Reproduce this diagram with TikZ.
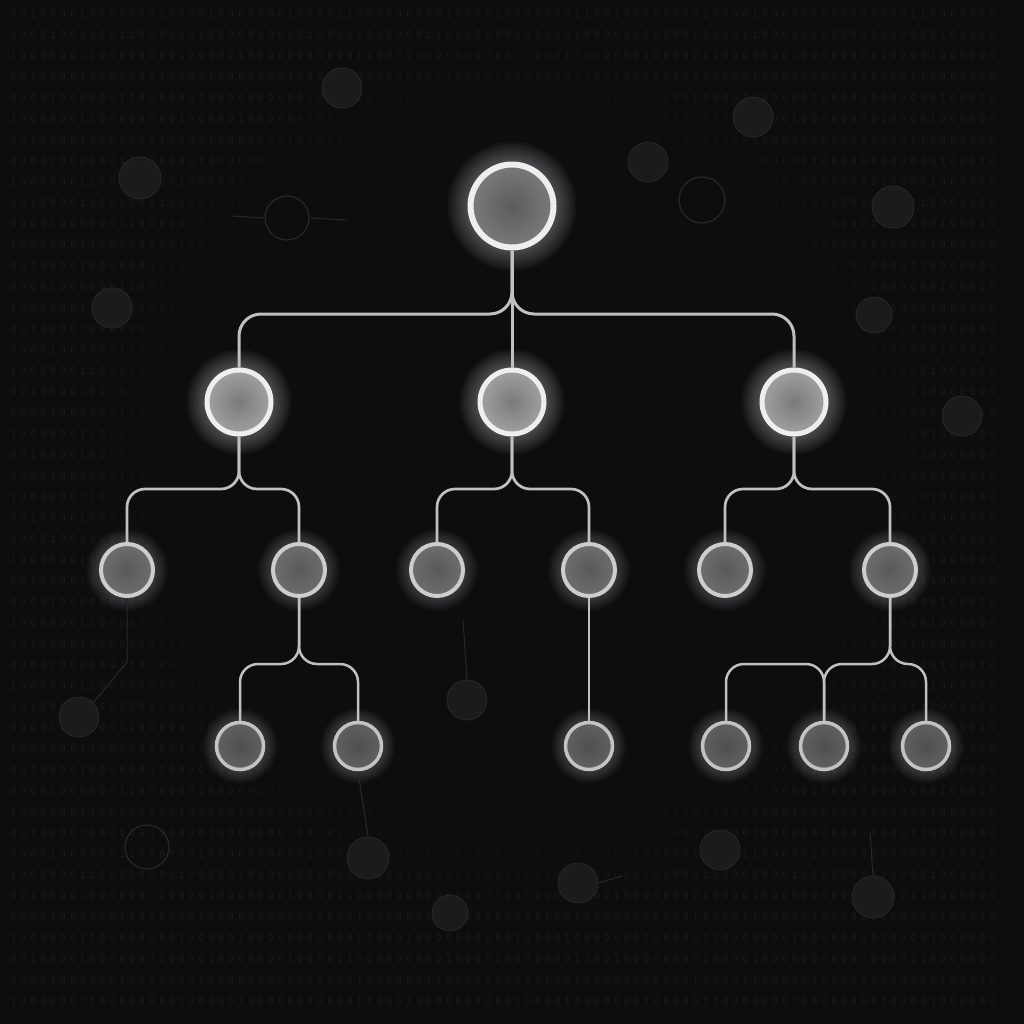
\documentclass[tikz,border=0pt]{standalone}
\usepackage{graphicx}
\usetikzlibrary{fadings}
\definecolor{BG}{RGB}{13,13,15}
\definecolor{Bits}{RGB}{31,31,34}
\definecolor{Ghost}{RGB}{27,27,30}
\definecolor{GhostRim}{RGB}{40,40,43}
\definecolor{Wire}{RGB}{192,192,192}
\definecolor{Rim}{RGB}{238,238,238}
\definecolor{RimLow}{RGB}{205,205,205}

\newcommand\bitsA{0 0 1 0 0 0 0 1 0 0 0 0 0 0 1 1 0 0 0 0 1 0 0 0 0 0 0 0 1 0 0 0 0 1 1 0 0 0 0 0 0 0 0 0 1 0 0 0 0 1 0 0 0 0 0 0 0 1 1 0 0 1 0 0 0 0 0 0 0 0 1 0 0 0 0 1 0 0 0 0 0 0 0 0 0 0 1 0 0 0 0 1 1 0 0 0 0 0 0 0}
\newcommand\bitsB{0 0 0 0 1 0 0 0 0 0 0 1 1 0 0 0 0 0 0 1 0 0 0 0 0 0 0 0 0 0 1 0 0 0 0 1 0 0 0 0 0 0 1 1 0 0 0 0 0 0 0 0 0 0 1 0 0 1 0 0 0 0 0 0 0 0 0 0 0 1 0 0 0 0 1 1 0 0 0 0 0 1 0 0 0 0 0 0 0 0 0 0 0 0 1 0 0 0 1 0}
\newcommand\bitsC{1 0 0 0 0 0 0 1 1 0 0 0 0 0 0 0 0 1 0 0 0 0 0 1 0 0 0 0 0 0 0 0 0 0 0 1 1 0 0 0 1 0 0 0 0 0 0 0 0 0 0 1 0 0 0 0 1 0 0 0 0 0 0 0 1 0 0 0 0 0 1 1 0 0 0 0 0 0 0 1 0 0 0 0 0 0 0 0 1 0 0 0 0 1 0 0 0 0 0 0}

\tikzset{
  bits/.style={Bits, anchor=west, inner sep=0pt, font=\fontsize{12}{12}\selectfont\ttfamily},
  ghost/.style={circle, fill=Ghost, draw=GhostRim, line width=0.8pt, inner sep=0pt},
  ghostring/.style={circle, draw=GhostRim, line width=1.2pt, inner sep=0pt},
  ghostwire/.style={GhostRim, line width=1pt},
  wire/.style={Wire, line width=3pt, rounded corners=18pt},
  rootnode/.style={circle, draw=Rim, line width=6pt, minimum size=83pt, inner sep=0pt,
    inner color=black!64, outer color=black!52},
  midnode/.style={circle, draw=Rim, line width=5pt, minimum size=64pt, inner sep=0pt,
    inner color=black!52, outer color=black!37},
  leafnode/.style={circle, draw=RimLow, line width=4pt, minimum size=52pt, inner sep=0pt,
    inner color=black!65, outer color=black!57},
  endnode/.style={circle, draw=RimLow!95!black, line width=3.5pt, minimum size=47pt, inner sep=0pt,
    inner color=black!69, outer color=black!62},
}

\begin{document}
\begin{tikzpicture}[x=1pt, y=-1pt]
  \fill[BG] (0,0) rectangle (1024,1024);
  \useasboundingbox (0,0) rectangle (1024,1024);

  % binary backdrop
  \foreach \k in {0,3,...,45}
    \node[bits] (bitsa\k) at (11,14+\k*21) {\scalebox{0.8}[1]{\bitsA}};
  \foreach \k in {1,4,...,46}
    \node[bits] (bitsb\k) at (11,14+\k*21) {\scalebox{0.8}[1]{\bitsB}};
  \foreach \k in {2,5,...,47}
    \node[bits] (bitsc\k) at (11,14+\k*21) {\scalebox{0.8}[1]{\bitsC}};
  \fill[BG, opacity=0.85, path fading=circle with fuzzy edge 20 percent]
    (512,470) ellipse (420 and 430);

  % faint circles
  \node[ghost, minimum size=40pt] (g1) at (342,88) {};
  \node[ghost, minimum size=42pt] (g2) at (140,178) {};
  \node[ghost, minimum size=40pt] (g3) at (112,308) {};
  \node[ghost, minimum size=40pt] (g4) at (648,162) {};
  \node[ghost, minimum size=40pt] (g5) at (753,117) {};
  \node[ghost, minimum size=42pt] (g6) at (893,207) {};
  \node[ghost, minimum size=36pt] (g7) at (874,315) {};
  \node[ghost, minimum size=40pt] (g8) at (962,416) {};
  \node[ghost, minimum size=40pt] (g9) at (79,717) {};
  \node[ghost, minimum size=40pt] (g10) at (467,700) {};
  \node[ghost, minimum size=42pt] (g11) at (368,858) {};
  \node[ghost, minimum size=40pt] (g12) at (578,883) {};
  \node[ghost, minimum size=36pt] (g13) at (450,913) {};
  \node[ghost, minimum size=40pt] (g14) at (720,850) {};
  \node[ghost, minimum size=42pt] (g15) at (873,897) {};
  \node[ghostring, minimum size=44pt] (h1) at (287,218) {};
  \node[ghostring, minimum size=46pt] (h2) at (702,200) {};
  \node[ghostring, minimum size=44pt] (h3) at (147,847) {};
  \coordinate (h1w) at (232,216);
  \coordinate (h1e) at (346,220);
  \coordinate (g10n) at (463,620);
  \coordinate (g12e) at (622,876);
  \coordinate (g15n) at (870,832);
  \draw[ghostwire] (h1w) -- (h1.west);
  \draw[ghostwire] (h1.east) -- (h1e);
  \draw[ghostwire] (g10n) -- (g10.north);
  \draw[ghostwire] (g12.east) -- (g12e);
  \draw[ghostwire] (g15n) -- (g15.north);

  % glow
  \foreach \x/\y/\r/\g/\o in {512/206/44.5/20/0.035, 239/402/34.5/18/0.035, 512/402/34.5/18/0.035,
      794/402/34.5/18/0.035, 127/570/28/13/0.025, 299/570/28/13/0.025, 437/570/28/13/0.025,
      589/570/28/13/0.025, 725/570/28/13/0.025, 890/570/28/13/0.025, 240/746/25.5/12/0.022,
      358/746/25.5/12/0.022, 589/746/25.5/12/0.022, 726/746/25.5/12/0.022, 824/746/25.5/12/0.022,
      926/746/25.5/12/0.022}
    \foreach \i in {1,...,8}
      \fill[white, opacity=\o] (\x,\y) circle[radius={(\r+\i*\g/8)*1pt}];

  % tree
  \node[rootnode] (root) at (512,206) {};
  \node[midnode] (l) at (239,402) {};
  \node[midnode] (m) at (512,402) {};
  \node[midnode] (r) at (794,402) {};
  \node[leafnode] (l1) at (127,570) {};
  \node[leafnode] (l2) at (299,570) {};
  \node[leafnode] (m1) at (437,570) {};
  \node[leafnode] (m2) at (589,570) {};
  \node[leafnode] (r1) at (725,570) {};
  \node[leafnode] (r2) at (890,570) {};
  \node[endnode] (l2a) at (240,746) {};
  \node[endnode] (l2b) at (358,746) {};
  \node[endnode] (m2a) at (589,746) {};
  \node[endnode] (r2a) at (726,746) {};
  \node[endnode] (r2b) at (824,746) {};
  \node[endnode] (r2c) at (926,746) {};

  \coordinate (bar0) at (512,314);
  \coordinate (bar1) at (512,489);
  \coordinate (bar2) at (512,664);

  \draw[ghostwire] (l1.south) -- ++(0,64) -- (g9.north east);
  \draw[ghostwire] (l2b.south) -- (g11.north);

  \draw[wire, rounded corners=22pt] (root.south) |- (l.north |- bar0) -- (l.north);
  \draw[wire, rounded corners=22pt] (root.south) |- (r.north |- bar0) -- (r.north);
  \draw[wire] (root.south) -- (m.north);

  \draw[wire, line width=2.7pt] (l.south) |- (l1.north |- bar1) -- (l1.north);
  \draw[wire, line width=2.7pt] (l.south) |- (l2.north |- bar1) -- (l2.north);
  \draw[wire, line width=2.7pt] (m.south) |- (m1.north |- bar1) -- (m1.north);
  \draw[wire, line width=2.7pt] (m.south) |- (m2.north |- bar1) -- (m2.north);
  \draw[wire, line width=2.7pt] (r.south) |- (r1.north |- bar1) -- (r1.north);
  \draw[wire, line width=2.7pt] (r.south) |- (r2.north |- bar1) -- (r2.north);

  \draw[wire, line width=2.5pt] (l2.south) |- (l2a.north |- bar2) -- (l2a.north);
  \draw[wire, line width=2.5pt] (l2.south) |- (l2b.north |- bar2) -- (l2b.north);
  \draw[wire, line width=2.5pt] (m2.south) -- (m2a.north);
  \draw[wire, line width=2.5pt] (r2.south) |- (r2c.north |- bar2) -- (r2c.north);
  \draw[wire, line width=2.5pt] (r2.south) |- (r2b.north |- bar2) -- (r2b.north);
  \draw[wire, line width=2.5pt] (r2a.north) |- (r2b.north |- bar2) -- (r2b.north);
\end{tikzpicture}
\end{document}
